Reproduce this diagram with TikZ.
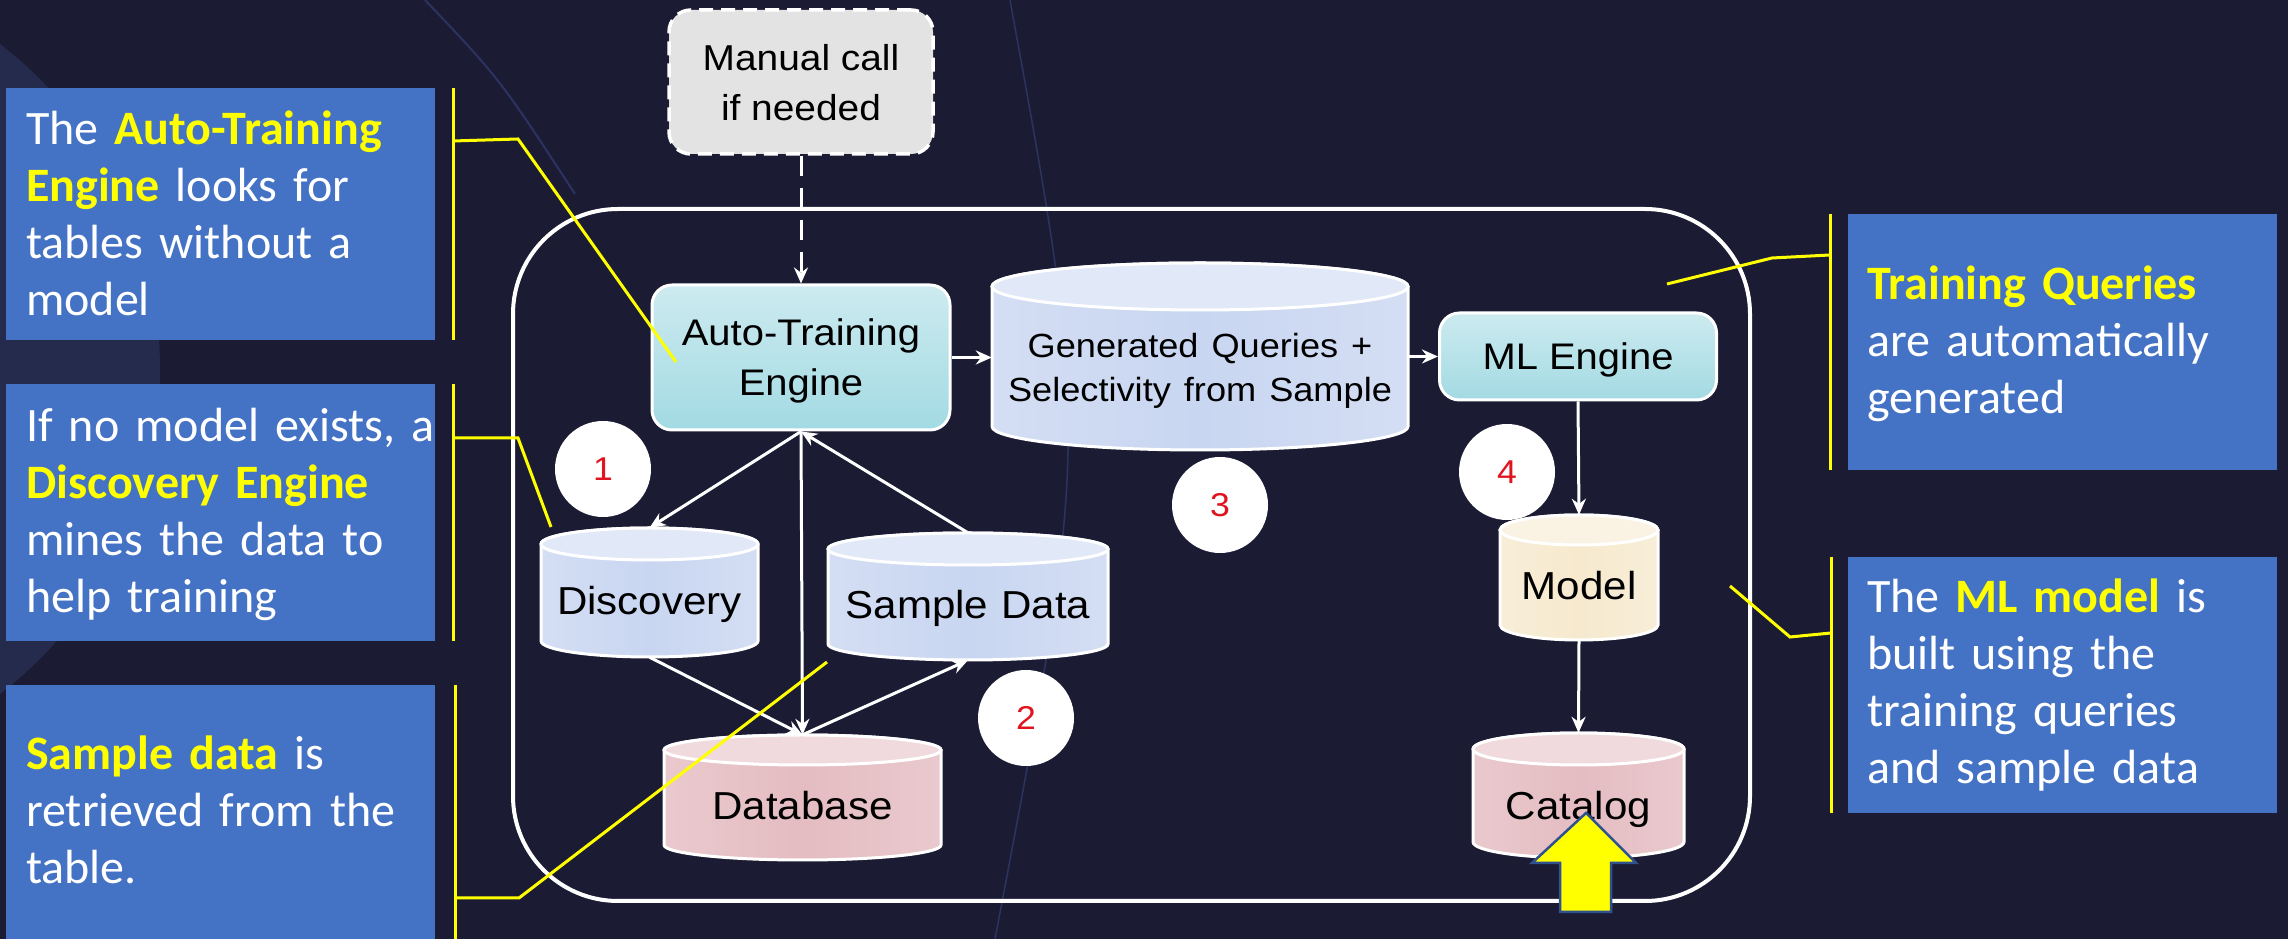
\documentclass[tikz,border=0pt]{standalone}
\usepackage{fontspec}
\newfontfamily\dfont[FakeStretch=1.08]{Liberation Sans}
\newfontfamily\cfont{Carlito}
\usetikzlibrary{arrows.meta,calc}
\definecolor{bg}{HTML}{1B1C33}
\definecolor{bglight}{HTML}{252B4C}
\definecolor{bgline}{HTML}{2C3360}
\definecolor{callout}{HTML}{4472C4}
\definecolor{hlyellow}{HTML}{FFFF00}
\definecolor{cyanfill}{HTML}{A3DAE3}
\definecolor{lavfill}{HTML}{C9D6F1}
\definecolor{pinkfill}{HTML}{E4BCC1}
\definecolor{creamfill}{HTML}{F6E9CE}
\definecolor{manualfill}{HTML}{E3E3E3}
\definecolor{numred}{HTML}{E0141E}
\definecolor{arrowedge}{HTML}{2F528F}
\newcommand{\hl}[1]{\textcolor{hlyellow}{\bfseries #1}}
\tikzset{
  callbox/.style={fill=callout, draw=none},
  calltext/.style={font=\cfont\fontsize{48}{57}\selectfont, text=white, align=left, text width=440pt, inner sep=0pt, anchor=base west},
  bracket/.style={draw=hlyellow, line width=3pt, line join=miter},
  frame/.style={draw=white, line width=4pt, rounded corners=105pt, inner sep=0pt},
  dtext/.style={font=\dfont\fontsize{37}{50}\selectfont, text=black, align=center, inner sep=0pt},
  enginebox/.style={dtext, draw=white, line width=3pt, rounded corners=20pt, top color=cyanfill!55!white, bottom color=cyanfill, text depth=0pt},
  manualbox/.style={dtext, font=\dfont\fontsize{36}{50}\selectfont, fill=manualfill, draw=white, line width=3.5pt, dash pattern=on 14pt off 8pt, rounded corners=22pt, text depth=0pt},
  flow/.style={draw=white, line width=3pt, -{Stealth[length=16pt,width=14pt]}},
  flowdash/.style={flow, dash pattern=on 20pt off 12pt},
  numcircle/.style={circle, fill=white, minimum size=96pt, inner sep=0pt, font=\dfont\fontsize{33}{33}\selectfont, text=numred},
  cylbox/.style={rectangle, draw=none, inner sep=0pt},
  cylline/.style={draw=white, line width=3pt},
  cyltext/.style={font=\dfont\fontsize{39}{45}\selectfont, text=black, align=center, text width=460pt, inner sep=0pt, anchor=base},
}
% #1 name, #2 x1, #3 x2, #4 Ytop, #5 Ybot, #6 ry, #7 fill, #8 text, #9 baseline
\newcommand{\mycyl}[9]{%
  \pgfmathsetmacro\cylcx{(#2+#3)/2}%
  \pgfmathsetmacro\cylcy{(#4+#5)/2}%
  \pgfmathsetmacro\cylrx{(#3-#2)/2}%
  \pgfmathsetmacro\cylw{#3-#2}%
  \pgfmathsetmacro\cylh{#4-#5}%
  \node[cylbox, minimum width=\cylw pt, minimum height=\cylh pt] (#1) at (\cylcx,\cylcy) {};
  \path[cylline, left color=#7!80!white, right color=#7!80!white, middle color=#7]
    (#2,#4-#6) -- (#2,#5+#6) arc[start angle=180, end angle=360, x radius=\cylrx, y radius=#6]
    -- (#3,#4-#6) arc[start angle=0, end angle=180, x radius=\cylrx, y radius=#6] -- cycle;
  \path[cylline, fill=#7!55!white] (\cylcx,#4-#6) ellipse[x radius=\cylrx, y radius=#6];
  \node[cyltext] (#1-label) at (\cylcx,#9) {#8};
}
\begin{document}
\begin{tikzpicture}[x=1pt,y=1pt]
% background
\fill[bg] (0,0) rectangle (2288,939);
\begin{scope}
  \clip (0,0) rectangle (2288,939);
  \fill[bglight] (-250,570) circle (410);
  \draw[bgline, line width=2pt] (425,939) .. controls (500,860) .. (575,745);
  \draw[bgline, line width=1.5pt] (1010,939) .. controls (1090,500) .. (995,0);
\end{scope}
\useasboundingbox (0,0) rectangle (2288,939);

% callout boxes
\node[callbox, minimum width=429pt, minimum height=252pt, inner sep=0pt] (box1) at (220.5,725) {};
\node[callbox, minimum width=429pt, minimum height=257pt, inner sep=0pt] (box2) at (220.5,426.5) {};
\node[callbox, minimum width=429pt, minimum height=264pt, inner sep=0pt] (box3) at (220.5,122) {};
\node[callbox, minimum width=429pt, minimum height=256pt, inner sep=0pt] (box4) at (2062.5,597) {};
\node[callbox, minimum width=429pt, minimum height=256pt, inner sep=0pt] (box5) at (2062.5,254) {};

\node[calltext] (t1) at (26,794) {The \hl{Auto-Training}\\\hl{Engine} looks for\\tables without a\\model};
\node[calltext] (t2) at (26,497) {If no model exists, a\\\hl{Discovery Engine}\\mines the data to\\help training};
\node[calltext] (t3) at (26,169) {\hl{Sample data} is\\retrieved from the\\table.};
\node[calltext] (t4) at (1867,639) {\hl{Training Queries}\\are automatically\\generated};
\node[calltext] (t5) at (1867,326) {The \hl{ML model} is\\built using the\\training queries\\and sample data};

% container
\node[frame, minimum width=1237pt, minimum height=692pt] (container) at (1131.5,384) {};

% engine boxes
\node[manualbox, minimum width=264pt, minimum height=144pt] (manual) at (801,857) {Manual call\\if needed};
\node[enginebox, minimum width=298pt, minimum height=145pt] (auto) at (801,581.5) {Auto-Training\\Engine};
\node[enginebox, minimum width=277pt, minimum height=87pt] (ml) at (1578,582.5) {ML Engine};

% cylinders
\mycyl{gen}{992}{1408}{676}{489}{23.5}{lavfill}{\fontsize{33.5}{44}\selectfont Generated Queries +\\Selectivity from Sample\par}{581}
\mycyl{disc}{541}{758}{411}{282}{16}{lavfill}{Discovery}{324}
\mycyl{samp}{828}{1108}{406}{279}{16}{lavfill}{Sample Data}{320}
\mycyl{db}{664}{941}{204}{79}{15}{pinkfill}{Database}{119}
\mycyl{model}{1500}{1658}{424}{299}{15}{creamfill}{Model}{339}
\mycyl{cat}{1473}{1684}{206}{81}{16}{pinkfill}{Catalog}{119}

% numbered circles
\node[numcircle] (n1) at (603,470) {1};
\node[numcircle] (n2) at (1026,221) {2};
\node[numcircle] (n3) at (1220,434) {3};
\node[numcircle] (n4) at (1507,467) {4};

% connectors
\draw[flowdash] (manual.south) -- (auto.north);
\draw[flow] (auto.east) -- (auto.east -| gen.west);
\draw[flow] (gen.east |- ml.west) -- (ml.west);
\draw[flow] (auto.south) -- (disc.north);
\draw[flow] (samp.north) -- (auto.south);
\draw[flow] (auto.south) -- (db.north);
\draw[flow] (disc.south) -- (db.north);
\draw[flow] (db.north) -- (samp.south);
\draw[flow] (ml.south) -- (model.north);
\draw[flow] (model.south) -- (cat.north);

% yellow block arrow
\draw[fill=hlyellow, draw=arrowedge, line width=2.5pt, line join=miter]
  (1560,27) -- (1560,76) -- (1532,76) -- (1586,126) -- (1636,76) -- (1611,76) -- (1611,27) -- cycle;

% brackets (callout leaders)
\coordinate (b1t) at (453,851); \coordinate (b1b) at (453,599);
\coordinate (b1a) at (453,798); \coordinate (b1k) at (518,800); \coordinate (b1e) at (676,577);
\coordinate (b2t) at (453,555); \coordinate (b2b) at (453,298);
\coordinate (b2a) at (453,501); \coordinate (b2k) at (518,501); \coordinate (b2e) at (551,412);
\coordinate (b3t) at (455,254); \coordinate (b3b) at (455,0);
\coordinate (b3a) at (455,41); \coordinate (b3k) at (519,41); \coordinate (b3e) at (827,277);
\coordinate (b4t) at (1830,725); \coordinate (b4b) at (1830,469);
\coordinate (b4a) at (1830,684); \coordinate (b4k) at (1772,681); \coordinate (b4e) at (1667,655);
\coordinate (b5t) at (1831,382); \coordinate (b5b) at (1831,126);
\coordinate (b5a) at (1831,306); \coordinate (b5k) at (1790,302); \coordinate (b5e) at (1730,353);
\draw[bracket] (b1t) -- (b1b); \draw[bracket] (b1a) -- (b1k) -- (b1e);
\draw[bracket] (b2t) -- (b2b); \draw[bracket] (b2a) -- (b2k) -- (b2e);
\draw[bracket] (b3t) -- (b3b); \draw[bracket] (b3a) -- (b3k) -- (b3e);
\draw[bracket] (b4t) -- (b4b); \draw[bracket] (b4a) -- (b4k) -- (b4e);
\draw[bracket] (b5t) -- (b5b); \draw[bracket] (b5a) -- (b5k) -- (b5e);
\end{tikzpicture}
\end{document}
